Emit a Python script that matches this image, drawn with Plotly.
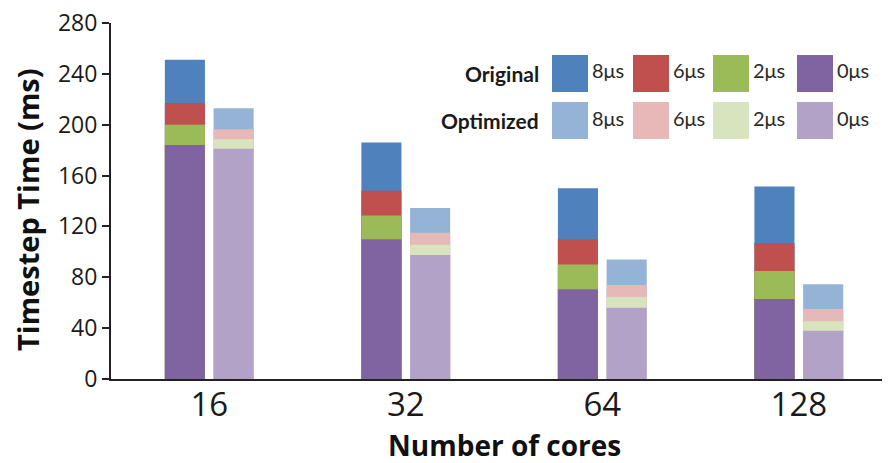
import plotly.graph_objects as go

# ---- data ----
cores = ["16", "32", "64", "128"]
latencies = ["8μs", "6μs", "2μs", "0μs"]

original_8us = [251, 186, 150, 151.5]
original_6us = [217, 148, 110, 107]
original_2us = [200, 128.5, 90, 85]
original_0us = [184, 110, 70.5, 63]

optimized_8us = [213, 134.5, 94, 74.5]
optimized_6us = [196.5, 115, 74, 55]
optimized_2us = [188.5, 105.5, 64.5, 45.5]
optimized_0us = [181, 97.5, 56, 38]

original_colors = ["#4F81BD", "#C0504D", "#9BBB59", "#8064A2"]
optimized_colors = ["#95B3D7", "#E6B9B8", "#D7E4BD", "#B3A2C7"]

original = [original_8us, original_6us, original_2us, original_0us]
optimized = [optimized_8us, optimized_6us, optimized_2us, optimized_0us]

# page body has an 8px default margin; lay the figure out in page pixels
OFF = 8
W, H = 890 - OFF, 463 - OFF
PL, PR, PT, PB = 111, 890, 23, 379   # plot area in page pixels
ML, MR, MT, MB = PL - OFF, 0, PT - OFF, (H + OFF) - PB

fig = go.Figure()
bar_w = 0.204
for name, vals, col in zip(latencies, original, original_colors):
    fig.add_trace(go.Bar(x=cores, y=vals, name="Original " + name, marker_color=col,
                         marker_line_width=0, offset=-0.226, width=bar_w, showlegend=False))
for name, vals, col in zip(latencies, optimized, optimized_colors):
    fig.add_trace(go.Bar(x=cores, y=vals, name="Optimized " + name, marker_color=col,
                         marker_line_width=0, offset=0.022, width=bar_w, showlegend=False))

# ---- custom legend (two rows), page-pixel helpers ----
def px_x(p):
    return (p - PL) / (PR - PL)

def px_y(p):
    return (PB - p) / (PB - PT)

shapes = []
annotations = []
sq_left = [552, 633, 713, 797]
rows = [("Original", original_colors, 55, 92), ("Optimized", optimized_colors, 102, 139)]
for label, cols, y0, y1 in rows:
    annotations.append(dict(text="<b>" + label + "</b>", xref="paper", yref="paper",
                            x=px_x(541), y=px_y((y0 + y1) / 2), xanchor="right", yanchor="middle",
                            showarrow=False, font=dict(family="Lato", size=21, color="#1a1a1a")))
    for xl, c, lat in zip(sq_left, cols, latencies):
        shapes.append(dict(type="rect", xref="paper", yref="paper",
                           x0=px_x(xl), x1=px_x(xl + 36), y0=px_y(y1), y1=px_y(y0),
                           fillcolor=c, line=dict(width=0)))
        annotations.append(dict(text=lat, xref="paper", yref="paper",
                                x=px_x(xl + 38), y=px_y((y0 + y1) / 2 - 3), xanchor="left", yanchor="middle",
                                showarrow=False, font=dict(family="Lato", size=20, color="#2a2a2a")))

# axis titles
annotations.append(dict(text="<b>Timestep Time (ms)</b>", xref="paper", yref="paper",
                        x=px_x(27), y=px_y(210), xanchor="center", yanchor="middle", textangle=-90,
                        showarrow=False, font=dict(family="Open Sans", size=29, color="#111")))
annotations.append(dict(text="<b>Number of cores</b>", xref="paper", yref="paper",
                        x=px_x(505), y=px_y(445), xanchor="center", yanchor="middle",
                        showarrow=False, font=dict(family="Open Sans", size=28, color="#111")))

fig.update_layout(
    width=W, height=H,
    margin=dict(l=ML, r=MR, t=MT, b=MB),
    barmode="overlay",
    plot_bgcolor="white", paper_bgcolor="white",
    shapes=shapes, annotations=annotations,
    font=dict(family="Open Sans", color="#1a1a1a"),
)
fig.update_xaxes(
    range=[-0.5, 3.464], showline=True, linewidth=2, linecolor="#222",
    ticks="", tickfont=dict(size=33, color="#1a1a1a"), showgrid=False, zeroline=False,
    ticklabelstandoff=-5, automargin=False,
)
fig.update_yaxes(
    range=[0, 280], dtick=40, showline=True, linewidth=2, linecolor="#222",
    ticks="outside", ticklen=7, tickwidth=2, tickcolor="#222",
    tickfont=dict(size=23, color="#1a1a1a"), showgrid=False, zeroline=False,
    ticklabeloverflow="allow", automargin=False,
)

fig.write_html("out.html")
